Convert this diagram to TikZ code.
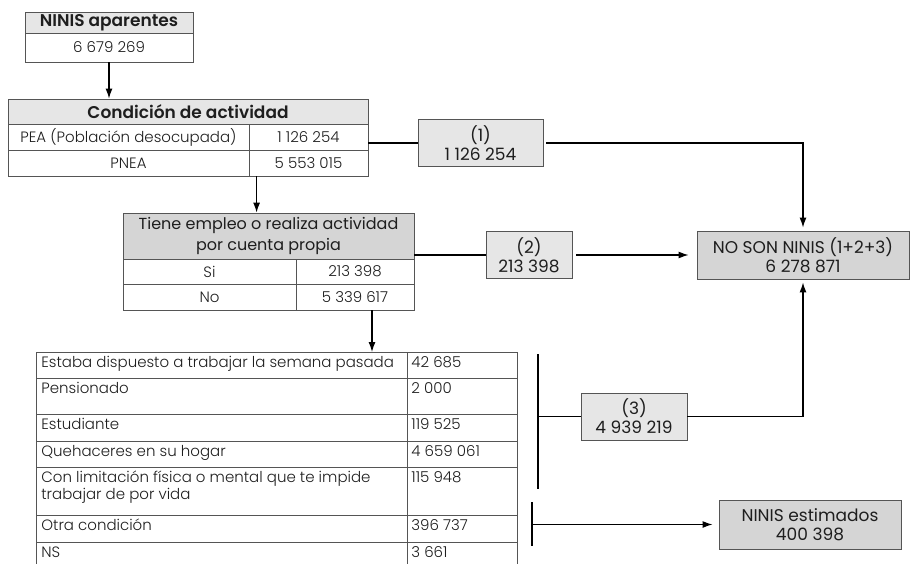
\documentclass[tikz,border=0pt]{standalone}
\usepackage{fontspec}
\setmainfont{Poppins}[UprightFont={* Light}, BoldFont={* SemiBold}, Numbers=Monospaced]
\newfontfamily\regfont{Poppins}[Numbers=Monospaced]
\usetikzlibrary{arrows.meta}
\definecolor{ink}{HTML}{1E1E1E}
\definecolor{tabline}{HTML}{555555}
\definecolor{lightfill}{HTML}{E6E6E6}
\definecolor{midfill}{HTML}{D5D5D5}
\newcommand{\tabfnt}{\fontsize{15}{17}\selectfont}
\newcommand{\resfnt}{\regfont\fontsize{17}{19}\selectfont}
\newcommand{\headfnt}{\fontsize{17}{19}\selectfont\bfseries}
\begin{document}
\begin{tikzpicture}[x=1pt, y=-1pt,
    tab/.style={draw=tabline, line width=0.8pt, inner sep=0pt, text=ink, font=\tabfnt},
    head/.style={tab, fill=lightfill, font=\headfnt},
    res/.style={draw=tabline, line width=0.9pt, inner sep=0pt, align=center, text=ink, font=\resfnt},
    link/.style={line width=1.2pt},
    arr/.style={link, -{Latex[length=10pt, width=7pt]}}]
  \useasboundingbox (0,0) rectangle (910,564);
  \clip (0,0) rectangle (910,564);

  % first box
  \node[head, minimum width=168, minimum height=21] (ninisHead) at (109,22.5) {NINIS aparentes};
  \node[tab, minimum width=168, minimum height=29] (ninisVal) at (109,47.5) {6 679 269};

  % condicion de actividad
  \node[head, minimum width=360, minimum height=25] (condHead) at (188,111.5) {Condición de actividad};
  \node[tab, minimum width=241, minimum height=26] (pea)     at (128.5,137) {PEA (Población desocupada)};
  \node[tab, minimum width=119, minimum height=26] (peaVal)  at (308.5,137) {1 126 254};
  \node[tab, minimum width=241, minimum height=26] (pnea)    at (128.5,163) {PNEA};
  \node[tab, minimum width=119, minimum height=26] (pneaVal) at (308.5,163) {5 553 015};

  % tiene empleo
  \node[head, fill=midfill, font=\regfont\fontsize{16}{21}\selectfont, align=center, minimum width=291, minimum height=46] (tHead) at (268.5,236)
    {Tiene empleo o realiza actividad\\por cuenta propia};
  \node[tab, minimum width=173, minimum height=25] (si)    at (209.5,271.5) {Si};
  \node[tab, minimum width=118, minimum height=25] (siVal) at (355,271.5) {213 398};
  \node[tab, minimum width=173, minimum height=26] (no)    at (209.5,297) {No};
  \node[tab, minimum width=118, minimum height=26] (noVal) at (355,297) {5 339 617};

  % reasons
  \def\reasons {352/26/{Estaba dispuesto a trabajar la semana pasada}/{42 685},
    378/36/{Pensionado}/{2 000}, 414/27/{Estudiante}/{119 525},
    441/26/{Quehaceres en su hogar}/{4 659 061},
    467/48/{Con limitación física o mental que te impide\\trabajar de por vida}/{115 948},
    515/27/{Otra condición}/{396 737}, 542/30/{NS}/{3 661}}  % list elements
  \foreach \y/\h/\txt/\val [count=\i] in \reasons
  {   \pgfmathsetmacro\hh{\h-7}
      \node[tab, anchor=north west, inner xsep=5pt, minimum width=371, minimum height=\h] (lab\i) at (36,\y)
        {\parbox[c][\hh pt][t]{361pt}{\strut\txt}};
      \node[tab, anchor=north west, inner xsep=4pt, minimum width=110, minimum height=\h] (val\i) at (407,\y)
        {\parbox[c][\hh pt][t]{102pt}{\strut\val}};
  }

  % results
  \node[res, fill=lightfill, minimum width=125, minimum height=47] (box1) at (480.5,143) {(1)\\1 126 254};
  \node[res, fill=lightfill, minimum width=86, minimum height=47] (box2) at (529,255) {(2)\\213 398};
  \node[res, fill=lightfill, minimum width=106, minimum height=47] (box3) at (634,416.5) {(3)\\4 939 219};
  \node[res, fill=midfill, minimum width=212, minimum height=48] (noson) at (803,255) {NO SON NINIS (1+2+3)\\6 278 871};
  \node[res, fill=midfill, minimum width=182, minimum height=49] (estim) at (810,524.5) {NINIS estimados\\400 398};

  \coordinate (bar1a) at (538,354);
  \coordinate (bar1b) at (538,489);
  \coordinate (bar2a) at (532,502);
  \coordinate (bar2b) at (532,546);

  % connectors
  \draw[arr] (ninisVal.south) -- (ninisVal.south |- condHead.north);
  \draw[arr] ([xshift=8]pneaVal.south west) -- ([xshift=8]pneaVal.south west |- tHead.north);
  \draw[arr] ([xshift=17]noVal.south) -- ([xshift=17]noVal.south |- lab1.north);
  \draw[link] (peaVal.east |- box1.west) -- (box1.west);
  \draw[arr, shorten <=3pt, shorten >=3pt] (box1.east) -| (noson.north);
  \draw[link] (tHead.east |- box2.west) -- (box2.west);
  \draw[arr, shorten <=4pt, shorten >=8pt] (box2.east) -- (noson.west);
  \draw[link] (bar1a) -- (bar1b);
  \draw[link] (bar1a |- box3.west) -- (box3.west);
  \draw[arr, shorten >=3pt] (box3.east) -| (noson.south);
  \draw[link] (bar2a) -- (bar2b);
  \draw[arr, shorten >=6pt] (bar2a |- estim.west) -- (estim.west);
\end{tikzpicture}
\end{document}
